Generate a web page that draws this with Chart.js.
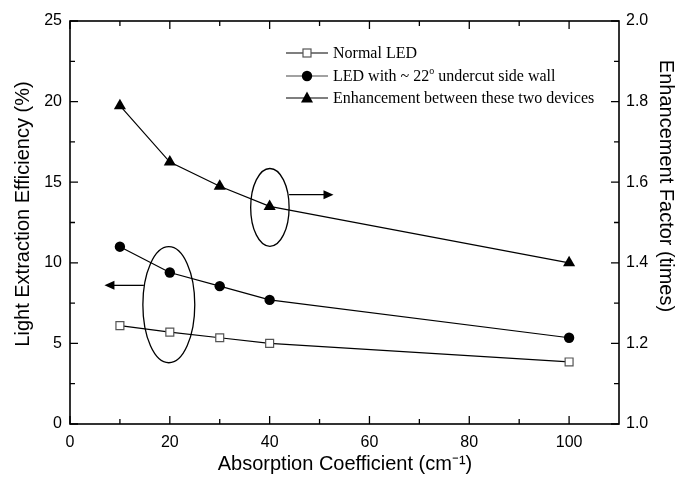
<!DOCTYPE html>
<html>
<head>
<meta charset="utf-8">
<script src="https://cdn.jsdelivr.net/npm/chart.js@4/dist/chart.umd.min.js"></script>
<style>
    body { margin: 0; background: #fff; }
</style>
</head>
<body>
<canvas id="grafico" width="681" height="492"></canvas>
<script>
// values
var absorption = [10, 20, 30, 40, 100];
var normal_led = [6.1, 5.7, 5.35, 5.0, 3.85];
var undercut_led = [11.0, 9.4, 8.55, 7.7, 5.35];
var enhancement = [1.79, 1.65, 1.59, 1.54, 1.40];

var ticks_x = [0, 20, 40, 60, 80, 100];
var minor_x = [10, 30, 50, 70, 90];
var ticks_left = [0, 5, 10, 15, 20, 25];
var minor_left = [2.5, 7.5, 12.5, 17.5, 22.5];
var ticks_right = [1.0, 1.2, 1.4, 1.6, 1.8, 2.0];
var minor_right = [1.1, 1.3, 1.5, 1.7, 1.9];

var legend_labels = ["Normal LED", "LED with ~ 22", "Enhancement between these two devices"];

var sans = "'Liberation Sans', Arial, sans-serif";
var serif = "'Liberation Serif', 'Times New Roman', serif";

function puntos(xs, ys) {
    var out = [];
    for (var i = 0; i < xs.length; i++) {
        out.push({ x: xs[i], y: ys[i] });
    }
    return out;
}

function arrow_head(ctx, x, y, dir) {
    ctx.beginPath();
    ctx.moveTo(x, y);
    ctx.lineTo(x - dir * 10, y - 4.5);
    ctx.lineTo(x - dir * 10, y + 4.5);
    ctx.closePath();
    ctx.fill();
}

function marker(ctx, kind, x, y) {
    ctx.save();
    ctx.lineWidth = 1.2;
    if (kind == 'rect') {
        ctx.fillStyle = '#fff';
        ctx.strokeStyle = '#555';
        ctx.fillRect(x - 4, y - 4, 8, 8);
        ctx.strokeRect(x - 4, y - 4, 8, 8);
    } else if (kind == 'circle') {
        ctx.fillStyle = '#000';
        ctx.beginPath();
        ctx.arc(x, y, 5.2, 0, Math.PI * 2);
        ctx.fill();
    } else {
        ctx.fillStyle = '#000';
        ctx.beginPath();
        ctx.moveTo(x, y - 6.5);
        ctx.lineTo(x + 6, y + 4.5);
        ctx.lineTo(x - 6, y + 4.5);
        ctx.closePath();
        ctx.fill();
    }
    ctx.restore();
}

var decorado = {
    id: 'decorado',
    afterDraw: function (chart) {
        var ctx = chart.ctx;
        var a = chart.chartArea;
        var sx = chart.scales.x, sy = chart.scales.y, sy2 = chart.scales.y2;
        ctx.save();
        ctx.strokeStyle = '#000';
        ctx.fillStyle = '#000';

        // frame
        ctx.lineWidth = 1.6;
        ctx.strokeRect(a.left, a.top, a.right - a.left, a.bottom - a.top);

        // inward ticks
        ctx.lineWidth = 1.3;
        ctx.beginPath();
        ticks_x.concat(minor_x).forEach(function (v) {
            var len = ticks_x.indexOf(v) >= 0 ? 8 : 5;
            var px = sx.getPixelForValue(v);
            ctx.moveTo(px, a.bottom); ctx.lineTo(px, a.bottom - len);
            ctx.moveTo(px, a.top); ctx.lineTo(px, a.top + len);
        });
        ticks_left.concat(minor_left).forEach(function (v) {
            var len = ticks_left.indexOf(v) >= 0 ? 8 : 5;
            var py = sy.getPixelForValue(v);
            ctx.moveTo(a.left, py); ctx.lineTo(a.left + len, py);
        });
        ticks_right.concat(minor_right).forEach(function (v) {
            var len = ticks_right.indexOf(v) >= 0 ? 8 : 5;
            var py = sy2.getPixelForValue(v);
            ctx.moveTo(a.right, py); ctx.lineTo(a.right - len, py);
        });
        ctx.stroke();

        // axis titles
        ctx.font = '20px ' + sans;
        ctx.textAlign = 'center';
        ctx.textBaseline = 'middle';
        ctx.fillText('Absorption Coefficient (cm\u207B\u00B9)', 345, 464);
        ctx.save();
        ctx.translate(23, 214);
        ctx.rotate(-Math.PI / 2);
        ctx.fillText('Light Extraction Efficiency (%)', 0, 0);
        ctx.restore();
        ctx.save();
        ctx.translate(666, 186);
        ctx.rotate(Math.PI / 2);
        ctx.fillText('Enhancement Factor (times)', 0, 0);
        ctx.restore();

        // ellipse + arrow for the left axis group
        ctx.lineWidth = 1.3;
        var e1x = sx.getPixelForValue(19.8), e1y = sy.getPixelForValue(7.4);
        var e1rx = sx.getPixelForValue(25.0) - e1x, e1ry = e1y - sy.getPixelForValue(11.0);
        ctx.beginPath();
        ctx.ellipse(e1x, e1y, e1rx, e1ry, 0, 0, Math.PI * 2);
        ctx.stroke();
        var a1y = sy.getPixelForValue(8.6);
        var a1x0 = sx.getPixelForValue(14.8), a1x1 = sx.getPixelForValue(6.9);
        ctx.beginPath();
        ctx.moveTo(a1x0, a1y); ctx.lineTo(a1x1 + 8, a1y);
        ctx.stroke();
        arrow_head(ctx, a1x1, a1y, -1);

        // ellipse + arrow for the right axis group
        var e2x = sx.getPixelForValue(40.05), e2y = sy2.getPixelForValue(1.5375);
        var e2rx = sx.getPixelForValue(43.9) - e2x, e2ry = e2y - sy2.getPixelForValue(1.634);
        ctx.beginPath();
        ctx.ellipse(e2x, e2y, e2rx, e2ry, 0, 0, Math.PI * 2);
        ctx.stroke();
        var a2y = sy2.getPixelForValue(1.569);
        var a2x0 = sx.getPixelForValue(43.9), a2x1 = sx.getPixelForValue(52.8);
        ctx.beginPath();
        ctx.moveTo(a2x0, a2y); ctx.lineTo(a2x1 - 8, a2y);
        ctx.stroke();
        arrow_head(ctx, a2x1, a2y, 1);

        // legend
        var kinds = ['rect', 'circle', 'triangle'];
        var rows = [53, 76, 98];
        ctx.font = '16px ' + serif;
        ctx.textAlign = 'left';
        for (var i = 0; i < 3; i++) {
            ctx.lineWidth = 1.2;
            ctx.strokeStyle = i == 1 ? '#444' : '#000';
            ctx.beginPath();
            ctx.moveTo(286, rows[i]); ctx.lineTo(328, rows[i]);
            ctx.stroke();
            marker(ctx, kinds[i], 307, rows[i]);
            ctx.fillStyle = '#000';
            ctx.fillText(legend_labels[i], 333, rows[i] + 1);
            if (i == 1) {
                var w = ctx.measureText(legend_labels[i]).width;
                ctx.font = '10px ' + serif;
                ctx.fillText('o', 333 + w, rows[i] - 5);
                var w2 = ctx.measureText('o').width;
                ctx.font = '16px ' + serif;
                ctx.fillText(' undercut side wall', 333 + w + w2, rows[i] + 1);
            }
        }
        ctx.restore();
    }
};

var chart_led = new Chart(document.getElementById('grafico').getContext('2d'), {
    type: 'line',
    data: {
        datasets: [{
            data: puntos(absorption, normal_led),
            yAxisID: 'y',
            borderColor: '#000',
            borderWidth: 1.2,
            pointStyle: 'rect',
            pointRadius: 5.6,
            pointBackgroundColor: '#fff',
            pointBorderColor: '#555',
            pointBorderWidth: 1.2,
            fill: false,
        },
        {
            data: puntos(absorption, undercut_led),
            yAxisID: 'y',
            borderColor: '#000',
            borderWidth: 1.2,
            pointStyle: 'circle',
            pointRadius: 5.2,
            pointBackgroundColor: '#000',
            pointBorderColor: '#000',
            pointBorderWidth: 0,
            fill: false,
        },
        {
            data: puntos(absorption, enhancement),
            yAxisID: 'y2',
            borderColor: '#000',
            borderWidth: 1.2,
            pointStyle: 'triangle',
            pointRadius: 7,
            pointBackgroundColor: '#000',
            pointBorderColor: '#000',
            pointBorderWidth: 0,
            fill: false,
        },
        ]
    },
    options: {
        responsive: false,
        animation: false,
        layout: { padding: { top: 21, left: 0, right: 0, bottom: 0 } },
        plugins: { legend: { display: false }, tooltip: { enabled: false } },
        scales: {
            x: {
                type: 'linear',
                min: 0,
                max: 110,
                grid: { display: false, drawTicks: false },
                border: { display: false },
                ticks: { color: '#000', padding: 9, maxRotation: 0, font: { size: 16, family: sans } },
                afterBuildTicks: function (s) { s.ticks = ticks_x.map(function (v) { return { value: v }; }); },
                afterFit: function (s) { s.height = 68; }
            },
            y: {
                position: 'left',
                min: 0,
                max: 25,
                grid: { display: false, drawTicks: false },
                border: { display: false },
                ticks: { color: '#000', padding: 8, font: { size: 16, family: sans } },
                afterBuildTicks: function (s) { s.ticks = ticks_left.map(function (v) { return { value: v }; }); },
                afterFit: function (s) { s.width = 70; }
            },
            y2: {
                position: 'right',
                min: 1.0,
                max: 2.0,
                grid: { display: false, drawTicks: false },
                border: { display: false },
                ticks: {
                    color: '#000', padding: 7, font: { size: 16, family: sans },
                    callback: function (v) { return v.toFixed(1); }
                },
                afterBuildTicks: function (s) { s.ticks = ticks_right.map(function (v) { return { value: v }; }); },
                afterFit: function (s) { s.width = 62; }
            }
        }
    },
    plugins: [decorado]
});
</script>
</body>
</html>
